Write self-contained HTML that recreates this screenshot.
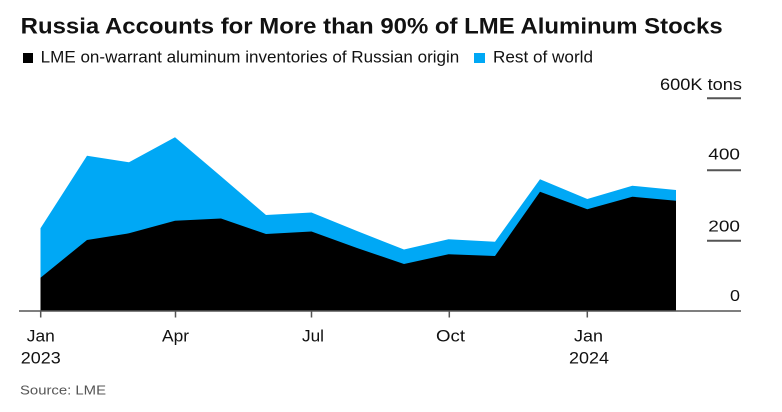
<!DOCTYPE html>
<html>
<head>
<meta charset="utf-8">
<style>
  html,body{margin:0;padding:0;background:#fff;}
  svg{display:block;}
  text{font-family:"Liberation Sans",Arial,sans-serif;fill:#111;}
</style>
</head>
<body>
<svg width="782" height="412" viewBox="0 0 782 412" xmlns="http://www.w3.org/2000/svg">
  <rect width="782" height="412" fill="#fff"/>
  <!-- Title -->
  <text x="20.7" y="33.3" font-size="22" font-weight="bold" textLength="702" lengthAdjust="spacingAndGlyphs">Russia Accounts for More than 90% of LME Aluminum Stocks</text>
  <!-- Legend -->
  <rect x="23" y="53" width="10" height="10" fill="#000"/>
  <text x="40.7" y="62.7" font-size="16.5" textLength="418.6" lengthAdjust="spacingAndGlyphs">LME on-warrant aluminum inventories of Russian origin</text>
  <rect x="474" y="53" width="11" height="10" fill="#00A8F5"/>
  <text x="493" y="62.7" font-size="16.5" textLength="100" lengthAdjust="spacingAndGlyphs">Rest of world</text>

  <!-- Y axis labels -->
  <text x="742" y="90" font-size="16.5" text-anchor="end" textLength="82" lengthAdjust="spacingAndGlyphs">600K tons</text>
  <text x="740" y="159.3" font-size="16" text-anchor="end" textLength="31.7" lengthAdjust="spacingAndGlyphs">400</text>
  <text x="740" y="231.7" font-size="16" text-anchor="end" textLength="31.7" lengthAdjust="spacingAndGlyphs">200</text>
  <text x="740" y="301" font-size="16" text-anchor="end" textLength="10" lengthAdjust="spacingAndGlyphs">0</text>
  <g stroke="#555" stroke-width="2">
    <line x1="707" y1="98.3" x2="741" y2="98.3"/>
    <line x1="707" y1="170.3" x2="741" y2="170.3"/>
    <line x1="707" y1="240.7" x2="741" y2="240.7"/>
  </g>

  <!-- Areas -->
  <polygon fill="#00A8F5" points="40.5,228.3 87,155.7 129,162.3 175,137.3 221,176.4 266,215 311.5,212.5 357,231 404,249.5 448.5,239.3 495,241.7 540,179.3 587.3,199 632.3,185.7 676,190 676,311 40.5,311"/>
  <polygon fill="#000" points="40.5,277.7 87,240 129,233.3 175,220.7 221,218.5 266,234 311.5,231.5 357,248 404,264 448.5,254.3 495,256 540,191.7 587.3,209.3 632.3,196.7 676,200.7 676,311 40.5,311"/>

  <!-- X axis -->
  <g stroke="#555" stroke-width="1.5">
    <line x1="19" y1="311" x2="741" y2="311"/>
    <line x1="40.7" y1="311" x2="40.7" y2="317.5"/>
    <line x1="175.5" y1="311" x2="175.5" y2="317.5"/>
    <line x1="311.5" y1="311" x2="311.5" y2="317.5"/>
    <line x1="449.3" y1="311" x2="449.3" y2="317.5"/>
    <line x1="587.3" y1="311" x2="587.3" y2="317.5"/>
  </g>
  <text x="40.8" y="341.5" font-size="17" text-anchor="middle" textLength="28" lengthAdjust="spacingAndGlyphs">Jan</text>
  <text x="40.8" y="363.3" font-size="17" text-anchor="middle" textLength="40" lengthAdjust="spacingAndGlyphs">2023</text>
  <text x="175.5" y="341.5" font-size="17" text-anchor="middle" textLength="27" lengthAdjust="spacingAndGlyphs">Apr</text>
  <text x="313" y="341.5" font-size="17" text-anchor="middle" textLength="22" lengthAdjust="spacingAndGlyphs">Jul</text>
  <text x="450.5" y="341.5" font-size="17" text-anchor="middle" textLength="29" lengthAdjust="spacingAndGlyphs">Oct</text>
  <text x="588.5" y="341.5" font-size="17" text-anchor="middle" textLength="29" lengthAdjust="spacingAndGlyphs">Jan</text>
  <text x="589" y="363.3" font-size="17" text-anchor="middle" textLength="40" lengthAdjust="spacingAndGlyphs">2024</text>

  <!-- Source -->
  <text x="20" y="394.3" font-size="13" fill="#555" style="fill:#555" textLength="86" lengthAdjust="spacingAndGlyphs">Source: LME</text>
</svg>
</body>
</html>
